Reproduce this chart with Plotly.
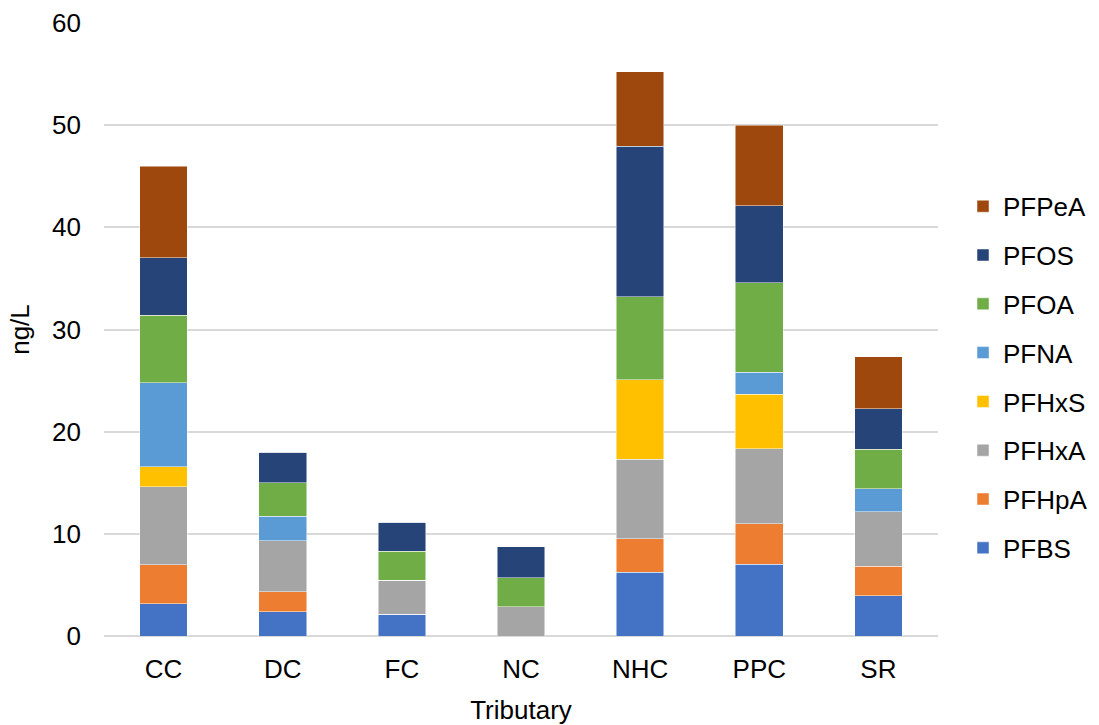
import plotly.graph_objects as go

# Tributary sampling sites
tributaries = ["CC", "DC", "FC", "NC", "NHC", "PPC", "SR"]

# PFAS concentrations (ng/L) per tributary, stacked bottom to top
pfbs = [3.17, 2.38, 2.15, 0.0, 6.26, 7.04, 3.94]
pfhpa = [3.81, 1.96, 0.0, 0.0, 3.28, 3.94, 2.88]
pfhxa = [7.62, 4.99, 3.33, 2.84, 7.78, 7.37, 5.34]
pfhxs = [1.97, 0.0, 0.0, 0.0, 7.75, 5.30, 0.0]
pfna = [8.23, 2.38, 0.0, 0.0, 0.0, 2.18, 2.25]
pfoa = [6.60, 3.29, 2.84, 2.87, 8.15, 8.77, 3.87]
pfos = [5.60, 2.97, 2.80, 3.03, 14.70, 7.50, 3.94]
pfpea = [9.00, 0.0, 0.0, 0.0, 7.30, 7.90, 5.12]

series = [
    ("PFBS", pfbs, "#4472C4"),
    ("PFHpA", pfhpa, "#ED7D31"),
    ("PFHxA", pfhxa, "#A5A5A5"),
    ("PFHxS", pfhxs, "#FFC000"),
    ("PFNA", pfna, "#5B9BD5"),
    ("PFOA", pfoa, "#70AD47"),
    ("PFOS", pfos, "#264478"),
    ("PFPeA", pfpea, "#9E480E"),
]

font_family = "Liberation Sans, Arial, sans-serif"
fs = 26

fig = go.Figure()
n = len(series)
for i, (name, vals, color) in enumerate(series):
    fig.add_trace(go.Bar(
        x=tributaries,
        y=vals,
        name=name,
        legendgroup=name,
        legendrank=(n - i) * 10,  # top of the stack listed first
        marker=dict(color=color, line=dict(color="rgba(255,255,255,0.6)", width=0.8)),
    ))

fig.update_layout(
    barmode="stack",
    bargap=0.6,
    width=1099,
    height=725,
    margin=dict(l=104, r=161, t=23, b=89, autoexpand=False),
    paper_bgcolor="white",
    plot_bgcolor="white",
    font=dict(family=font_family, size=fs, color="#000000"),
    legend=dict(
        traceorder="grouped",
        tracegroupgap=12,
        x=1.030,
        xanchor="left",
        y=0.422,
        yanchor="middle",
        font=dict(size=fs, color="#000000"),
        itemwidth=30,
        borderwidth=0,
    ),
    xaxis=dict(
        title=dict(text="Tributary", font=dict(size=fs), standoff=22),
        showgrid=False,
        showline=False,
        ticks="",
        ticklabelstandoff=15,
    ),
    yaxis=dict(
        title=dict(text="ng/L", font=dict(size=fs), standoff=14),
        range=[0, 60],
        dtick=10,
        showgrid=True,
        gridcolor="#D9D9D9",
        gridwidth=1.5,
        zeroline=True,
        zerolinecolor="#D9D9D9",
        zerolinewidth=1.5,
        showline=False,
        ticks="",
        ticklabelstandoff=22,
    ),
)

fig.write_html("out.html")
